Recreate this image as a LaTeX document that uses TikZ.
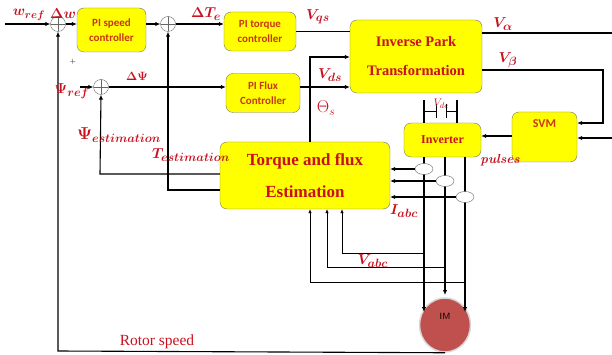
\documentclass[tikz,border=0pt]{standalone}
\usepackage{amsmath}
\usepackage{fontspec}
\newfontfamily\boxfont{Carlito}
\newfontfamily\timesfont{Liberation Serif}
\usetikzlibrary{positioning,shapes.geometric,arrows.meta}
\DeclareMathSizes{14}{14}{10.5}{8}
\DeclareMathSizes{15}{15}{11.5}{9}
\DeclareMathSizes{16}{16}{12.5}{9}
\definecolor{lblred}{RGB}{200,16,30}
\definecolor{boxtxt}{RGB}{200,55,20}
\definecolor{boxyel}{RGB}{255,255,0}
\definecolor{imred}{RGB}{192,80,77}
\begin{document}
\begin{tikzpicture}[x=1pt,y=-1pt,
    blok/.style={draw=black!55,fill=boxyel,rounded corners=7pt,align=center,
        text=boxtxt,font=\boxfont\bfseries\fontsize{11}{15}\selectfont},
    bigblok/.style={blok,text=lblred,font=\timesfont\bfseries\fontsize{14.5}{29}\selectfont},
    summ/.style={circle,draw=black!60,minimum size=15pt,inner sep=0pt,
        path picture={\draw[black!60] (path picture bounding box.north)--(path picture bounding box.south)
            (path picture bounding box.west)--(path picture bounding box.east);}},
    sensor/.style={ellipse,draw=black!60,fill=white,minimum width=18pt,minimum height=11pt,inner sep=0pt},
    lbl/.style={text=lblred,font=\boldmath\fontsize{15}{15}\selectfont},
    sig/.style={line width=1.1pt,-{Latex[length=5pt,width=4.5pt]}},
    thinsig/.style={line width=0.6pt,-{Latex[length=4pt,width=3.5pt]}}]
    \useasboundingbox (0,0) rectangle (612,355);
    % blocks
    \node[blok,minimum width=69pt,minimum height=44pt](spd)at(111.5,30){PI speed\\controller};
    \node[blok,minimum width=72pt,minimum height=39pt](trq)at(260,31.5){PI torque\\controller};
    \node[blok,minimum width=74pt,minimum height=39pt](flx)at(263,93){PI Flux\\Controller};
    \node[bigblok,minimum width=132pt,minimum height=73pt](park)at(416,56.5){Inverse Park\\Transformation};
    \node[bigblok,minimum width=170pt,minimum height=67pt,
        font=\timesfont\bfseries\fontsize{17}{32}\selectfont](est)at(305,175.5){Torque and flux\\Estimation};
    \node[blok,minimum width=77pt,minimum height=34pt,text=lblred,
        font=\timesfont\bfseries\fontsize{12}{12}\selectfont](inv)at(442.5,140){Inverter};
    \node[blok,minimum width=65pt,minimum height=50pt](svm)at(544.5,137){};
    \node[text=boxtxt,font=\boxfont\bfseries\fontsize{12}{12}\selectfont]at([yshift=-12pt]svm.north){SVM};
    \node[summ](s1)at(58,24){};
    \node[summ](s2)at(168,24){};
    \node[summ](s3)at(101,87){};
    \node[ellipse,fill=imred,draw=black!15,line width=1.5pt,minimum width=51pt,minimum height=54pt](im)at(445,325){};
    \node[font=\sffamily\fontsize{9}{9}\selectfont]at([yshift=9pt]im.center){IM};
    % points
    \coordinate(win)at(5,24);
    \coordinate(psiin)at(80,87);
    \coordinate(th)at(310,57);
    \coordinate(va)at(612,33);
    \coordinate(vb)at(603,70);
    \coordinate(vbr)at(603,123);
    \coordinate(ext)at(612,138);
    \coordinate(pul)at(0,136);
    \coordinate(dca)at(424,100);
    \coordinate(dcb)at(457,100);
    \coordinate(ma)at(424,312);
    \coordinate(mb)at(445,295);
    \coordinate(mc)at(465,312);
    \coordinate(ua)at(342,253);
    \coordinate(ub)at(327,267);
    \coordinate(uc)at(310,282);
    \coordinate(pe)at(100,174);
    \coordinate(te)at(168,190);
    \coordinate(rs)at(58,351);
    % connectors
    \draw[sig](win)--(s1.west);
    \draw[sig](s1.east)--(spd.west |- s1);
    \draw[sig](spd.east |- s2)--(s2.west);
    \draw[sig](s2.east)--(trq.west |- s2);
    \draw[line width=1.1pt](trq.east)--(trq.east -| park.west);
    \draw[sig](psiin)--(s3.west);
    \draw[sig](s3.east)--(s3 -| flx.west);
    \draw[sig](flx.east |- s3)--(s3 -| park.west);
    \draw[sig](est.north -| th)--(th)--(th -| park.west);
    \draw[line width=1.1pt](park.east |- va)--(va);
    \draw[sig](park.east |- vb)--(vb)--(vbr)--(vbr -| svm.east);
    \draw[sig](ext)--(ext -| svm.east);
    \draw[sig](svm.west |- pul)--(inv.east |- pul);
    \draw[line width=1.1pt](dca)--(dca |- inv.north) (dcb)--(dcb |- inv.north);
    \draw[line width=0.6pt](424,111)--(436,111) (436,104)--(436,118)
        (446,104)--(446,118) (446,111)--(457,111);
    \draw[sig](inv.south -| ma)--(ma);
    \draw[sig](inv.south -| mb)--(mb);
    \draw[sig](inv.south -| mc)--(mc);
    \node[sensor](ia)at(424,169){};
    \node[sensor](ib)at(445,181){};
    \node[sensor](ic)at(465,197){};
    \draw[sig](ia.west)--(ia -| est.east);
    \draw[sig](ib.west)--(ib -| est.east);
    \draw[sig](ic.west)--(ic -| est.east);
    \draw[thinsig](ua -| ma)--(ua)--(ua |- est.south);
    \draw[thinsig](ub -| mb)--(ub)--(ub |- est.south);
    \draw[thinsig](uc -| mc)--(uc)--(uc |- est.south);
    \draw[sig](est.west |- pe)--(pe)--(s3.south);
    \draw[sig](est.west |- te)--(te)--(s2.south);
    \draw[sig](im.south)--(rs)--(s1.south);
    % labels
    \node[lbl,font=\boldmath\fontsize{14}{14}\selectfont]at(29,15){$w_{ref}$};
    \node[lbl,font=\boldmath\fontsize{14}{14}\selectfont]at(63,14){$\Delta w$};
    \node[lbl]at(206,14){$\Delta T_e$};
    \node[lbl]at(318,17){$V_{qs}$};
    \node[lbl]at(72,91){$\Psi_{ref}$};
    \node[lbl,font=\boldmath\fontsize{12}{12}\selectfont]at(137,76){$\Delta\Psi$};
    \node[lbl]at(330,75){$V_{ds}$};
    \node[text=lblred,font=\fontsize{16}{16}\selectfont]at(326,108){$\Theta_s$};
    \node[lbl,font=\boldmath\fontsize{16}{16}\selectfont]at(119,135){$\Psi_{estimation}$};
    \node[lbl]at(191,155){$T_{estimation}$};
    \node[lbl]at(503,24){$V_\alpha$};
    \node[lbl]at(508,60){$V_\beta$};
    \node[text=lblred,font=\fontsize{11}{11}\selectfont]at(441,104){$V_{dc}$};
    \node[lbl,font=\bfseries\itshape\fontsize{13}{13}\selectfont]at(500,160){pulses};
    \node[lbl]at(404,211){$I_{abc}$};
    \node[lbl]at(373,261){$V_{abc}$};
    \node[text=lblred,font=\timesfont\fontsize{15.5}{15.5}\selectfont]at(157,342){Rotor speed};
    \node[font=\fontsize{7}{7}\selectfont]at(73,62){+};
\end{tikzpicture}
\end{document}
